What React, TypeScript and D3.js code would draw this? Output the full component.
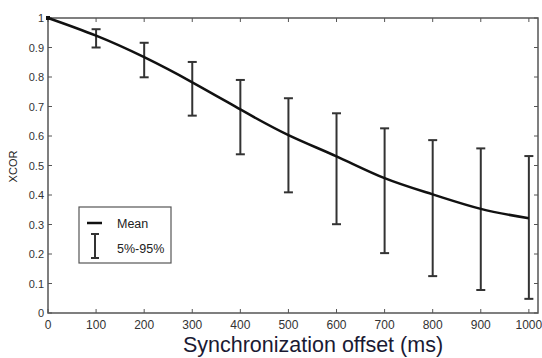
import React from "react";
import * as d3 from "d3";

const WIDTH = 542;
const HEIGHT = 358;
const MARGIN = { top: 18, right: 4, bottom: 45, left: 48 };

// offsets (ms) and mean cross-correlation
const OFFSETS = [0, 100, 200, 300, 400, 500, 600, 700, 800, 900, 1000];
const MEAN = [1.0, 0.94, 0.867, 0.782, 0.69, 0.603, 0.531, 0.457, 0.402, 0.353, 0.321];

// 5%-95% band, one entry per error bar
const BAR_OFFSETS = [100, 200, 300, 400, 500, 600, 700, 800, 900, 1000];
const LOW = [0.9, 0.799, 0.669, 0.538, 0.409, 0.301, 0.203, 0.125, 0.078, 0.048];
const HIGH = [0.962, 0.916, 0.851, 0.79, 0.728, 0.677, 0.626, 0.586, 0.558, 0.532];

const X_TICKS = [0, 100, 200, 300, 400, 500, 600, 700, 800, 900, 1000];
const Y_TICKS = [0, 0.1, 0.2, 0.3, 0.4, 0.5, 0.6, 0.7, 0.8, 0.9, 1];

const FONT = "'Liberation Sans', Arial, Helvetica, sans-serif";

export default function App() {
  const innerW = WIDTH - MARGIN.left - MARGIN.right;
  const innerH = HEIGHT - MARGIN.top - MARGIN.bottom;

  const x = d3.scaleLinear().domain([0, 1019]).range([MARGIN.left, MARGIN.left + innerW]);
  const y = d3.scaleLinear().domain([0, 1]).range([MARGIN.top + innerH, MARGIN.top]);

  const line = d3
    .line<number>()
    .x((_, i) => x(OFFSETS[i]))
    .y((d) => y(d))
    .curve(d3.curveNatural);

  const x0 = x.range()[0];
  const x1 = x.range()[1];
  const y0 = y.range()[0];
  const y1 = y.range()[1];
  const tick = 4;
  const cap = 4.5;

  // legend placement
  const lg = { x: 79, y: 207, w: 92, h: 56 };

  return (
    <svg
      width={WIDTH}
      height={HEIGHT}
      style={{ position: "absolute", left: 0, top: 0, background: "#fff", fontFamily: FONT }}
    >
      {/* frame */}
      <rect x={x0} y={y1} width={x1 - x0} height={y0 - y1} fill="none" stroke="#555" strokeWidth={1.5} />

      {/* x ticks, bottom and top, inward */}
      {X_TICKS.map((t) => (
        <g key={"xt" + t}>
          <line x1={x(t)} x2={x(t)} y1={y0} y2={y0 - tick} stroke="#555" strokeWidth={1} />
          <line x1={x(t)} x2={x(t)} y1={y1} y2={y1 + tick} stroke="#555" strokeWidth={1} />
          <text x={x(t)} y={y0 + 16} textAnchor="middle" fontSize={12} fill="#333">
            {t}
          </text>
        </g>
      ))}

      {/* y ticks, left and right, inward */}
      {Y_TICKS.map((t) => (
        <g key={"yt" + t}>
          <line x1={x0} x2={x0 + tick} y1={y(t)} y2={y(t)} stroke="#555" strokeWidth={1} />
          <line x1={x1} x2={x1 - tick} y1={y(t)} y2={y(t)} stroke="#555" strokeWidth={1} />
          <text x={x0 - 4} y={y(t) + 4} textAnchor="end" fontSize={11} fill="#333">
            {d3.format("~g")(t)}
          </text>
        </g>
      ))}

      {/* error bars */}
      {BAR_OFFSETS.map((o, i) => (
        <g key={"eb" + o} stroke="#333" strokeWidth={2}>
          <line x1={x(o)} x2={x(o)} y1={y(LOW[i])} y2={y(HIGH[i])} />
          <line x1={x(o) - cap} x2={x(o) + cap} y1={y(LOW[i])} y2={y(LOW[i])} />
          <line x1={x(o) - cap} x2={x(o) + cap} y1={y(HIGH[i])} y2={y(HIGH[i])} />
        </g>
      ))}

      {/* mean curve */}
      <path d={line(MEAN) || ""} fill="none" stroke="#111" strokeWidth={2.5} />
      <rect x={x(OFFSETS[0]) - 2} y={y(MEAN[0]) - 2} width={4} height={4} fill="#111" />

      {/* legend */}
      <rect x={lg.x} y={lg.y} width={lg.w} height={lg.h} fill="#fff" stroke="#555" strokeWidth={1.2} />
      <line x1={lg.x + 8} x2={lg.x + 23} y1={lg.y + 16} y2={lg.y + 16} stroke="#111" strokeWidth={2.5} />
      <text x={lg.x + 38} y={lg.y + 20.5} fontSize={12.5} fill="#222">
        Mean
      </text>
      <g stroke="#333" strokeWidth={2}>
        <line x1={lg.x + 16} x2={lg.x + 16} y1={lg.y + 27} y2={lg.y + 51} />
        <line x1={lg.x + 12} x2={lg.x + 20} y1={lg.y + 27} y2={lg.y + 27} />
        <line x1={lg.x + 12} x2={lg.x + 20} y1={lg.y + 51} y2={lg.y + 51} />
      </g>
      <text x={lg.x + 38} y={lg.y + 46} fontSize={12.5} fill="#222">
        5%-95%
      </text>

      {/* axis titles */}
      <text x={313} y={352} textAnchor="middle" fontSize={21.5} fill="#1a1a33">
        Synchronization offset (ms)
      </text>
      <text
        transform={`translate(17,${y(0.5) + 1}) rotate(-90)`}
        textAnchor="middle"
        fontSize={11}
        fill="#222"
      >
        XCOR
      </text>
    </svg>
  );
}
